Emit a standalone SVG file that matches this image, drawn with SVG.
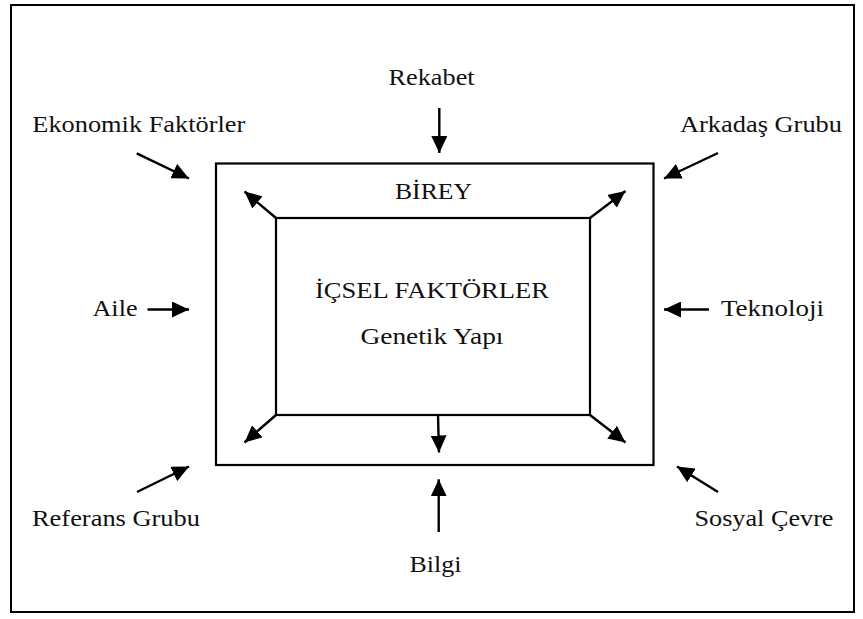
<svg xmlns="http://www.w3.org/2000/svg" width="863" height="619" viewBox="0 0 863 619">
  <style>
    .frame { fill: none; stroke: #000; stroke-width: 2; }
    .box { fill: none; stroke: #000; stroke-width: 2.2; }
    text { font-family: "Liberation Serif", "Times New Roman", "DejaVu Serif", serif; font-size: 23px; fill: #111; }
    .arr { stroke: #000; stroke-width: 2.4; fill: none; marker-end: url(#head); }
  </style>
  <defs>
    <marker id="head" markerUnits="userSpaceOnUse" markerWidth="18" markerHeight="16" refX="17" refY="8" orient="auto">
      <path d="M0,0 L17,8 L0,16 z" fill="#000"/>
    </marker>
  </defs>

  <rect x="0" y="0" width="863" height="619" fill="#fff"/>

  <!-- page frame -->
  <rect class="frame" x="11" y="5" width="843" height="607"/>

  <!-- individual (outer) box -->
  <g id="birey">
    <rect class="box" x="216" y="163.5" width="437.5" height="301.5"/>
    <text x="395" y="198.6" textLength="77" lengthAdjust="spacingAndGlyphs">BİREY</text>
  </g>

  <!-- internal factors (inner) box -->
  <g id="icsel">
    <rect class="box" x="276" y="218" width="314" height="197"/>
    <text x="315" y="298" textLength="234" lengthAdjust="spacingAndGlyphs">İÇSEL FAKTÖRLER</text>
    <text x="360.5" y="344" textLength="143" lengthAdjust="spacingAndGlyphs">Genetik Yapı</text>
  </g>

  <!-- external factor labels -->
  <g id="rekabet"><text x="388.6" y="85" textLength="86" lengthAdjust="spacingAndGlyphs">Rekabet</text></g>
  <g id="ekonomik"><text x="32.3" y="131.5" textLength="213" lengthAdjust="spacingAndGlyphs">Ekonomik Faktörler</text></g>
  <g id="arkadas"><text x="680" y="131.5" textLength="162" lengthAdjust="spacingAndGlyphs">Arkadaş Grubu</text></g>
  <g id="aile"><text x="92.5" y="316" textLength="45" lengthAdjust="spacingAndGlyphs">Aile</text></g>
  <g id="teknoloji"><text x="721" y="316" textLength="103" lengthAdjust="spacingAndGlyphs">Teknoloji</text></g>
  <g id="referans"><text x="32" y="526" textLength="168" lengthAdjust="spacingAndGlyphs">Referans Grubu</text></g>
  <g id="sosyal"><text x="694.5" y="526" textLength="139" lengthAdjust="spacingAndGlyphs">Sosyal Çevre</text></g>
  <g id="bilgi"><text x="409.5" y="571.5" textLength="52" lengthAdjust="spacingAndGlyphs">Bilgi</text></g>

  <!-- connectors -->
  <g id="connectors">
    <!-- outward from the inner box -->
    <line class="arr" x1="276" y1="218" x2="244.5" y2="191.5"/>
    <line class="arr" x1="590" y1="218" x2="625.5" y2="191"/>
    <line class="arr" x1="276" y1="415" x2="244.5" y2="442.5"/>
    <line class="arr" x1="590" y1="415" x2="625.5" y2="442.5"/>
    <line class="arr" x1="438" y1="415" x2="439" y2="452.5"/>
    <!-- inward from the environment -->
    <line class="arr" x1="439.3" y1="108" x2="439.3" y2="153"/>
    <line class="arr" x1="136.7" y1="153.3" x2="189" y2="178.5"/>
    <line class="arr" x1="718" y1="153" x2="664" y2="178.5"/>
    <line class="arr" x1="147.5" y1="309.5" x2="189" y2="309.5"/>
    <line class="arr" x1="709" y1="309.5" x2="664" y2="309.5"/>
    <line class="arr" x1="137" y1="492" x2="189" y2="466.5"/>
    <line class="arr" x1="718" y1="492" x2="677" y2="466.5"/>
    <line class="arr" x1="438.7" y1="532" x2="438.7" y2="479.3"/>
  </g>
</svg>
